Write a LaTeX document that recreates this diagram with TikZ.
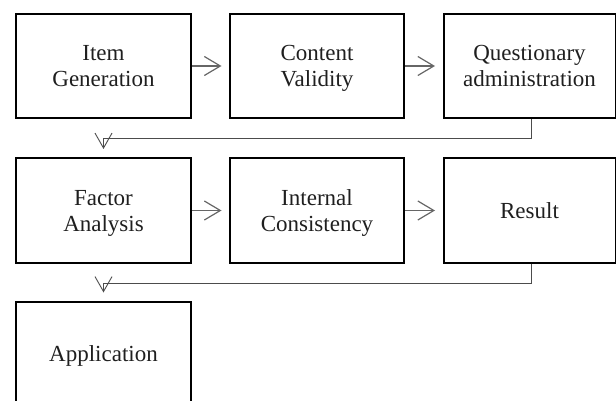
\documentclass[tikz,border=0pt]{standalone}
\usepackage{fontspec}
\setmainfont{Liberation Serif}
\usetikzlibrary{arrows.meta}
\newcommand\lnstrut{\rule[-4pt]{0pt}{24pt}}
\begin{document}
\begin{tikzpicture}[x=1pt,y=-1pt,
  box/.style={draw=black, line width=2pt, rectangle, minimum height=104pt,
    align=center, text=black!88, font=\fontsize{23}{26}\selectfont, inner sep=0pt},
  harrow/.style={draw=black!60, line width=1.2pt,
    -{Straight Barb[length=16pt,width=19pt,line width=1.2pt]}, shorten >=7.5pt},
  conn/.style={draw=black!70, line width=0.9pt,
    -{Straight Barb[length=15pt,width=17pt,line width=0.9pt]}, shorten >=8.5pt}]
\useasboundingbox (0,0) rectangle (616,401);
\node[box, minimum width=175pt] (ig) at (103.5,66) {\lnstrut Item\\\lnstrut Generation};
\node[box, minimum width=174pt] (cv) at (317,66) {\lnstrut Content\\\lnstrut Validity};
\node[box, minimum width=172pt] (qa) at (529.5,66) {\lnstrut Questionary\\\lnstrut administration};
\node[box, minimum width=175pt] (fa) at (103.5,210.5) {\lnstrut Factor\\\lnstrut Analysis};
\node[box, minimum width=174pt] (ic) at (317,210.5) {\lnstrut Internal\\\lnstrut Consistency};
\node[box, minimum width=172pt] (rs) at (529.5,210.5) {\lnstrut Result};
\node[box, minimum width=175pt] (ap) at (103.5,354) {\lnstrut Application};
\coordinate (k1) at (103.5,138.3);
\coordinate (k2) at (103.5,283.3);
\draw[harrow] (ig.east) -- (cv.west);
\draw[harrow] (cv.east) -- (qa.west);
\draw[harrow] (fa.east) -- (ic.west);
\draw[harrow] (ic.east) -- (rs.west);
\draw[conn] ([xshift=2pt]qa.south) |- (k1) -- (fa.north);
\draw[conn] ([xshift=2pt]rs.south) |- (k2) -- (ap.north);
\end{tikzpicture}
\end{document}
